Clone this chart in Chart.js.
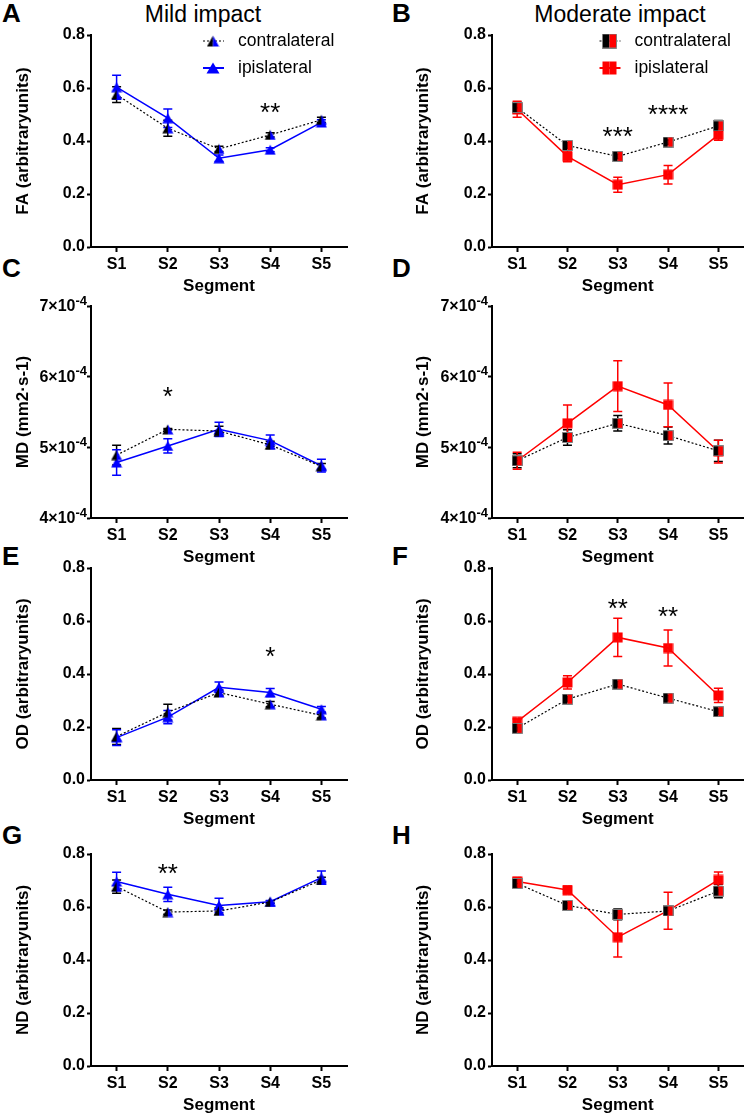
<!DOCTYPE html>
<html lang="en">
<head>
  <meta charset="UTF-8">
  <title>DTI metrics per segment: mild vs moderate impact</title>
  <script src="https://cdn.jsdelivr.net/npm/chart.js"></script>
  <style>
    body { margin: 0; background: #fff; font-family: "Liberation Sans", Arial, sans-serif; }
    #wrap { position: relative; width: 750px; height: 1119px; }
    canvas { position: absolute; }
    .letter { position: absolute; font-weight: bold; font-size: 26px; line-height: 1; }
    .colTitle { position: absolute; width: 220px; text-align: center; font-size: 23px; line-height: 1; }
  </style>
</head>
<body>
  <div id="wrap">
    <div class="colTitle" style="left:93px; top:3px;">Mild impact</div>
    <div class="colTitle" style="left:510px; top:3px;">Moderate impact</div>

    <div class="letter" style="left:2px; top:0px;">A</div>
    <div class="letter" style="left:392px; top:0px;">B</div>
    <div class="letter" style="left:2px; top:255px;">C</div>
    <div class="letter" style="left:392px; top:255px;">D</div>
    <div class="letter" style="left:2px; top:543px;">E</div>
    <div class="letter" style="left:392px; top:543px;">F</div>
    <div class="letter" style="left:2px; top:822px;">G</div>
    <div class="letter" style="left:392px; top:822px;">H</div>

    <canvas id="pA" width="375" height="299" style="left:0; top:0;"></canvas>
    <canvas id="pB" width="375" height="299" style="left:375px; top:0;"></canvas>
    <canvas id="pC" width="375" height="299" style="left:0; top:271px;"></canvas>
    <canvas id="pD" width="375" height="299" style="left:375px; top:271px;"></canvas>
    <canvas id="pE" width="375" height="299" style="left:0; top:533px;"></canvas>
    <canvas id="pF" width="375" height="299" style="left:375px; top:533px;"></canvas>
    <canvas id="pG" width="375" height="299" style="left:0; top:819px;"></canvas>
    <canvas id="pH" width="375" height="299" style="left:375px; top:819px;"></canvas>
  </div>

  <script>
    const segments = ['S1', 'S2', 'S3', 'S4', 'S5'];
    const faTicks = [0, 0.2, 0.4, 0.6, 0.8];
    const mdTicks = [4e-4, 5e-4, 6e-4, 7e-4];

    // --- FA ---
    const faMildContra = [0.575, 0.448, 0.370, 0.423, 0.480];
    const faMildContraErr = [0.030, 0.030, 0.010, 0.008, 0.010];
    const faMildIpsi = [0.603, 0.486, 0.335, 0.367, 0.470];
    const faMildIpsiErr = [0.045, 0.035, 0.012, 0.008, 0.010];
    const faModContra = [0.526, 0.383, 0.342, 0.396, 0.457];
    const faModContraErr = [0.020, 0.010, 0.008, 0.008, 0.020];
    const faModIpsi = [0.520, 0.342, 0.235, 0.273, 0.423];
    const faModIpsiErr = [0.030, 0.020, 0.028, 0.035, 0.020];

    // --- MD ---
    const mdMildContra = [4.89e-4, 5.255e-4, 5.23e-4, 5.035e-4, 4.73e-4];
    const mdMildContraErr = [0.14e-4, 0.01e-4, 0.07e-4, 0.05e-4, 0.04e-4];
    const mdMildIpsi = [4.785e-4, 5.02e-4, 5.255e-4, 5.095e-4, 4.74e-4];
    const mdMildIpsiErr = [0.18e-4, 0.10e-4, 0.10e-4, 0.08e-4, 0.09e-4];
    const mdModContra = [4.81e-4, 5.14e-4, 5.34e-4, 5.166e-4, 4.95e-4];
    const mdModContraErr = [0.10e-4, 0.11e-4, 0.11e-4, 0.12e-4, 0.15e-4];
    const mdModIpsi = [4.81e-4, 5.34e-4, 5.866e-4, 5.60e-4, 4.94e-4];
    const mdModIpsiErr = [0.12e-4, 0.26e-4, 0.36e-4, 0.31e-4, 0.16e-4];

    // --- OD ---
    const odMildContra = [0.164, 0.256, 0.330, 0.286, 0.244];
    const odMildContraErr = [0.030, 0.030, 0.010, 0.010, 0.010];
    const odMildIpsi = [0.160, 0.237, 0.350, 0.330, 0.267];
    const odMildIpsiErr = [0.030, 0.025, 0.020, 0.015, 0.010];
    const odModContra = [0.195, 0.305, 0.362, 0.309, 0.258];
    const odModContraErr = [0.010, 0.010, 0.010, 0.010, 0.010];
    const odModIpsi = [0.220, 0.368, 0.538, 0.498, 0.319];
    const odModIpsiErr = [0.010, 0.025, 0.072, 0.068, 0.027];

    // --- ND ---
    const ndMildContra = [0.677, 0.581, 0.585, 0.619, 0.702];
    const ndMildContraErr = [0.025, 0.008, 0.012, 0.005, 0.010];
    const ndMildIpsi = [0.696, 0.648, 0.606, 0.620, 0.711];
    const ndMildIpsiErr = [0.035, 0.027, 0.027, 0.005, 0.025];
    const ndModContra = [0.689, 0.606, 0.572, 0.585, 0.660];
    const ndModContraErr = [0.015, 0.012, 0.020, 0.015, 0.025];
    const ndModIpsi = [0.696, 0.664, 0.486, 0.586, 0.702];
    const ndModIpsiErr = [0.015, 0.015, 0.075, 0.070, 0.030];

    // significance marks (segment, label, value height)
    const faMildStars = [{ seg: 'S4', text: '**', y: 0.533 }];
    const faModStars = [{ seg: 'S3', text: '***', y: 0.44 }, { seg: 'S4', text: '****', y: 0.524 }];
    const mdMildStars = [{ seg: 'S2', text: '*', y: 5.81e-4 }];
    const odMildStars = [{ seg: 'S4', text: '*', y: 0.49 }];
    const odModStars = [{ seg: 'S3', text: '**', y: 0.67 }, { seg: 'S4', text: '**', y: 0.64 }];
    const ndMildStars = [{ seg: 'S2', text: '**', y: 0.752 }];

    const BLUE = '#0000ff';
    const RED = '#ff0000';
    const FONT = '"Liberation Sans", Arial, sans-serif';

    Chart.defaults.font.family = FONT;
    Chart.defaults.color = '#000';

    // half/half marker images (GraphPad style)
    function marker(shape, leftCol, rightCol, w, h, edge) {
      const c = document.createElement('canvas');
      c.width = w; c.height = h;
      const g = c.getContext('2d');
      const path = () => {
        g.beginPath();
        if (shape === 'tri') {
          g.moveTo(w / 2, 0.5); g.lineTo(w - 0.5, h - 0.5); g.lineTo(0.5, h - 0.5); g.closePath();
        } else {
          g.rect(0.5, 0.5, w - 1, h - 1);
        }
      };
      g.save(); path(); g.clip();
      g.fillStyle = leftCol; g.fillRect(0, 0, w / 2, h);
      g.fillStyle = rightCol; g.fillRect(w / 2, 0, w / 2, h);
      g.restore();
      if (edge) { path(); g.strokeStyle = edge; g.lineWidth = 1; g.stroke(); }
      return c;
    }

    const triContra = marker('tri', '#000', BLUE, 12, 11);
    const triIpsi = marker('tri', BLUE, BLUE, 12, 11);
    const sqContra = marker('sq', '#000', RED, 11, 11, '#808080');
    const sqIpsi = marker('sq', RED, RED, 11, 11);
    const triContraBig = marker('tri', '#000', BLUE, 13, 12);
    const triIpsiBig = marker('tri', BLUE, BLUE, 14, 12);
    const sqContraBig = marker('sq', '#000', RED, 15, 15, '#808080');
    const sqIpsiBig = marker('sq', RED, RED, 15, 14);

    const errorBars = {
      id: 'errorBars',
      beforeDatasetsDraw(chart) {
        const ctx = chart.ctx, xs = chart.scales.x, ys = chart.scales.y;
        chart.data.datasets.forEach(ds => {
          if (!ds.errors) return;
          ctx.save();
          ctx.strokeStyle = ds.barColor;
          ctx.lineWidth = 1.5;
          ds.data.forEach((v, j) => {
            const px = xs.getPixelForValue(j);
            const top = ys.getPixelForValue(v + ds.errors[j]);
            const bot = ys.getPixelForValue(v - ds.errors[j]);
            ctx.beginPath();
            ctx.moveTo(px, top); ctx.lineTo(px, bot);
            ctx.moveTo(px - 4.5, top); ctx.lineTo(px + 4.5, top);
            ctx.moveTo(px - 4.5, bot); ctx.lineTo(px + 4.5, bot);
            ctx.stroke();
          });
          ctx.restore();
        });
      }
    };

    const stars = {
      id: 'stars',
      afterDraw(chart, args, opts) {
        if (!opts.marks) return;
        const ctx = chart.ctx;
        ctx.save();
        ctx.font = '26px ' + FONT;
        ctx.fillStyle = '#000';
        ctx.textAlign = 'center';
        ctx.textBaseline = 'alphabetic';
        opts.marks.forEach(m => {
          const px = chart.scales.x.getPixelForValue(segments.indexOf(m.seg));
          const py = chart.scales.y.getPixelForValue(m.y);
          ctx.fillText(m.text, px, py + 15);
        });
        ctx.restore();
      }
    };

    // "7×10" with a raised "-4", drawn at the y scale's own tick positions
    const sciTicks = {
      id: 'sciTicks',
      afterDraw(chart, args, opts) {
        if (!opts.on) return;
        const ctx = chart.ctx, ys = chart.scales.y;
        ctx.save();
        ctx.fillStyle = '#000';
        ctx.textAlign = 'right';
        ctx.textBaseline = 'middle';
        ys.ticks.forEach(t => {
          const py = ys.getPixelForValue(t.value);
          const xr = ys.right - 4;
          const e = Math.floor(Math.log10(t.value));
          const mant = Math.round(t.value / Math.pow(10, e));
          const exp = String(e);
          ctx.font = 'bold 13px ' + FONT;
          ctx.fillText(exp, xr, py - 5);
          const w = ctx.measureText(exp).width;
          ctx.font = 'bold 16px ' + FONT;
          ctx.fillText(mant + '×10', xr - w, py + 1);
        });
        ctx.restore();
      }
    };

    const boxLegend = {
      id: 'boxLegend',
      afterDraw(chart, args, opts) {
        if (!opts.items) return;
        const ctx = chart.ctx, area = chart.chartArea;
        ctx.save();
        ctx.font = '17.5px ' + FONT;
        ctx.fillStyle = '#000';
        ctx.textBaseline = 'middle';
        opts.items.forEach((it, i) => {
          const cx = area.right - 134;
          const cy = area.top + 6 + i * 27;
          ctx.strokeStyle = it.color;
          ctx.lineWidth = it.width;
          ctx.setLineDash(it.dash);
          ctx.beginPath();
          ctx.moveTo(cx - 10, cy); ctx.lineTo(cx + 11, cy);
          ctx.stroke();
          ctx.setLineDash([]);
          ctx.drawImage(it.img, cx - it.img.width / 2, cy - it.img.height / 2);
          ctx.fillText(it.text, area.right - 109, cy);
        });
        ctx.restore();
      }
    };

    function makePanel(id, o) {
      const right = o.mild ? 28 : 3;
      const titlePad = o.mild ? 13 : 38;
      const axisW = o.mild ? 91 : 117;
      const ipsiColor = o.mild ? BLUE : RED;
      const legendItems = o.legend ? [
        { text: 'contralateral', color: '#000', width: 1.2, dash: [2, 2], img: o.mild ? triContraBig : sqContraBig },
        { text: 'ipislateral', color: ipsiColor, width: 2, dash: [], img: o.mild ? triIpsiBig : sqIpsiBig }
      ] : null;

      return new Chart(document.getElementById(id), {
        type: 'line',
        data: {
          labels: segments,
          datasets: [
            {
              label: 'contralateral',
              data: o.contra,
              errors: o.contraErr,
              barColor: '#000',
              borderColor: '#000',
              borderWidth: 1.2,
              borderDash: [2, 2],
              pointStyle: o.mild ? triContra : sqContra,
              pointRadius: 5,
              tension: 0
            },
            {
              label: 'ipislateral',
              data: o.ipsi,
              errors: o.ipsiErr,
              barColor: ipsiColor,
              borderColor: ipsiColor,
              borderWidth: 1.5,
              pointStyle: o.mild ? triIpsi : sqIpsi,
              pointRadius: 5,
              tension: 0
            }
          ]
        },
        options: {
          responsive: false,
          animation: false,
          devicePixelRatio: 1,
          layout: { padding: { top: 35, right: right, bottom: 0, left: 0 } },
          plugins: {
            legend: { display: false },
            tooltip: { enabled: false },
            stars: { marks: o.stars },
            boxLegend: { items: legendItems },
            sciTicks: { on: !!o.sci }
          },
          scales: {
            x: {
              type: 'category',
              offset: true,
              afterFit: s => { s.height = 52; },
              border: { color: '#000', width: 2 },
              grid: { offset: false, drawOnChartArea: false, tickLength: 5, tickColor: '#000', tickWidth: 2 },
              ticks: { padding: 3, font: { size: 16, weight: 'bold' } },
              title: { display: true, text: 'Segment', font: { size: 17, weight: 'bold' }, padding: { top: 0, bottom: 2 } }
            },
            y: {
              min: o.ticks[0],
              max: o.ticks[o.ticks.length - 1],
              afterFit: s => { s.width = axisW; },
              afterBuildTicks: s => { s.ticks = o.ticks.map(v => ({ value: v })); },
              border: { color: '#000', width: 2 },
              grid: { drawOnChartArea: false, tickLength: 4, tickColor: '#000', tickWidth: 2 },
              ticks: { padding: 2, font: { size: 16, weight: 'bold' }, callback: o.sci ? () => '' : v => v.toFixed(1) },
              title: { display: true, text: o.yTitle, font: { size: 17, weight: 'bold' }, padding: { top: titlePad, bottom: 0 } }
            }
          }
        },
        plugins: [errorBars, stars, boxLegend, sciTicks]
      });
    }

    makePanel('pA', { mild: true, legend: true, ticks: faTicks, yTitle: 'FA (arbitraryunits)',
      contra: faMildContra, contraErr: faMildContraErr, ipsi: faMildIpsi, ipsiErr: faMildIpsiErr, stars: faMildStars });
    makePanel('pB', { mild: false, legend: true, ticks: faTicks, yTitle: 'FA (arbitraryunits)',
      contra: faModContra, contraErr: faModContraErr, ipsi: faModIpsi, ipsiErr: faModIpsiErr, stars: faModStars });
    makePanel('pC', { mild: true, sci: true, ticks: mdTicks, yTitle: 'MD (mm2·s-1)',
      contra: mdMildContra, contraErr: mdMildContraErr, ipsi: mdMildIpsi, ipsiErr: mdMildIpsiErr, stars: mdMildStars });
    makePanel('pD', { mild: false, sci: true, ticks: mdTicks, yTitle: 'MD (mm2·s-1)',
      contra: mdModContra, contraErr: mdModContraErr, ipsi: mdModIpsi, ipsiErr: mdModIpsiErr });
    makePanel('pE', { mild: true, ticks: faTicks, yTitle: 'OD (arbitraryunits)',
      contra: odMildContra, contraErr: odMildContraErr, ipsi: odMildIpsi, ipsiErr: odMildIpsiErr, stars: odMildStars });
    makePanel('pF', { mild: false, ticks: faTicks, yTitle: 'OD (arbitraryunits)',
      contra: odModContra, contraErr: odModContraErr, ipsi: odModIpsi, ipsiErr: odModIpsiErr, stars: odModStars });
    makePanel('pG', { mild: true, ticks: faTicks, yTitle: 'ND (arbitraryunits)',
      contra: ndMildContra, contraErr: ndMildContraErr, ipsi: ndMildIpsi, ipsiErr: ndMildIpsiErr, stars: ndMildStars });
    makePanel('pH', { mild: false, ticks: faTicks, yTitle: 'ND (arbitraryunits)',
      contra: ndModContra, contraErr: ndModContraErr, ipsi: ndModIpsi, ipsiErr: ndModIpsiErr });
  </script>
</body>
</html>
